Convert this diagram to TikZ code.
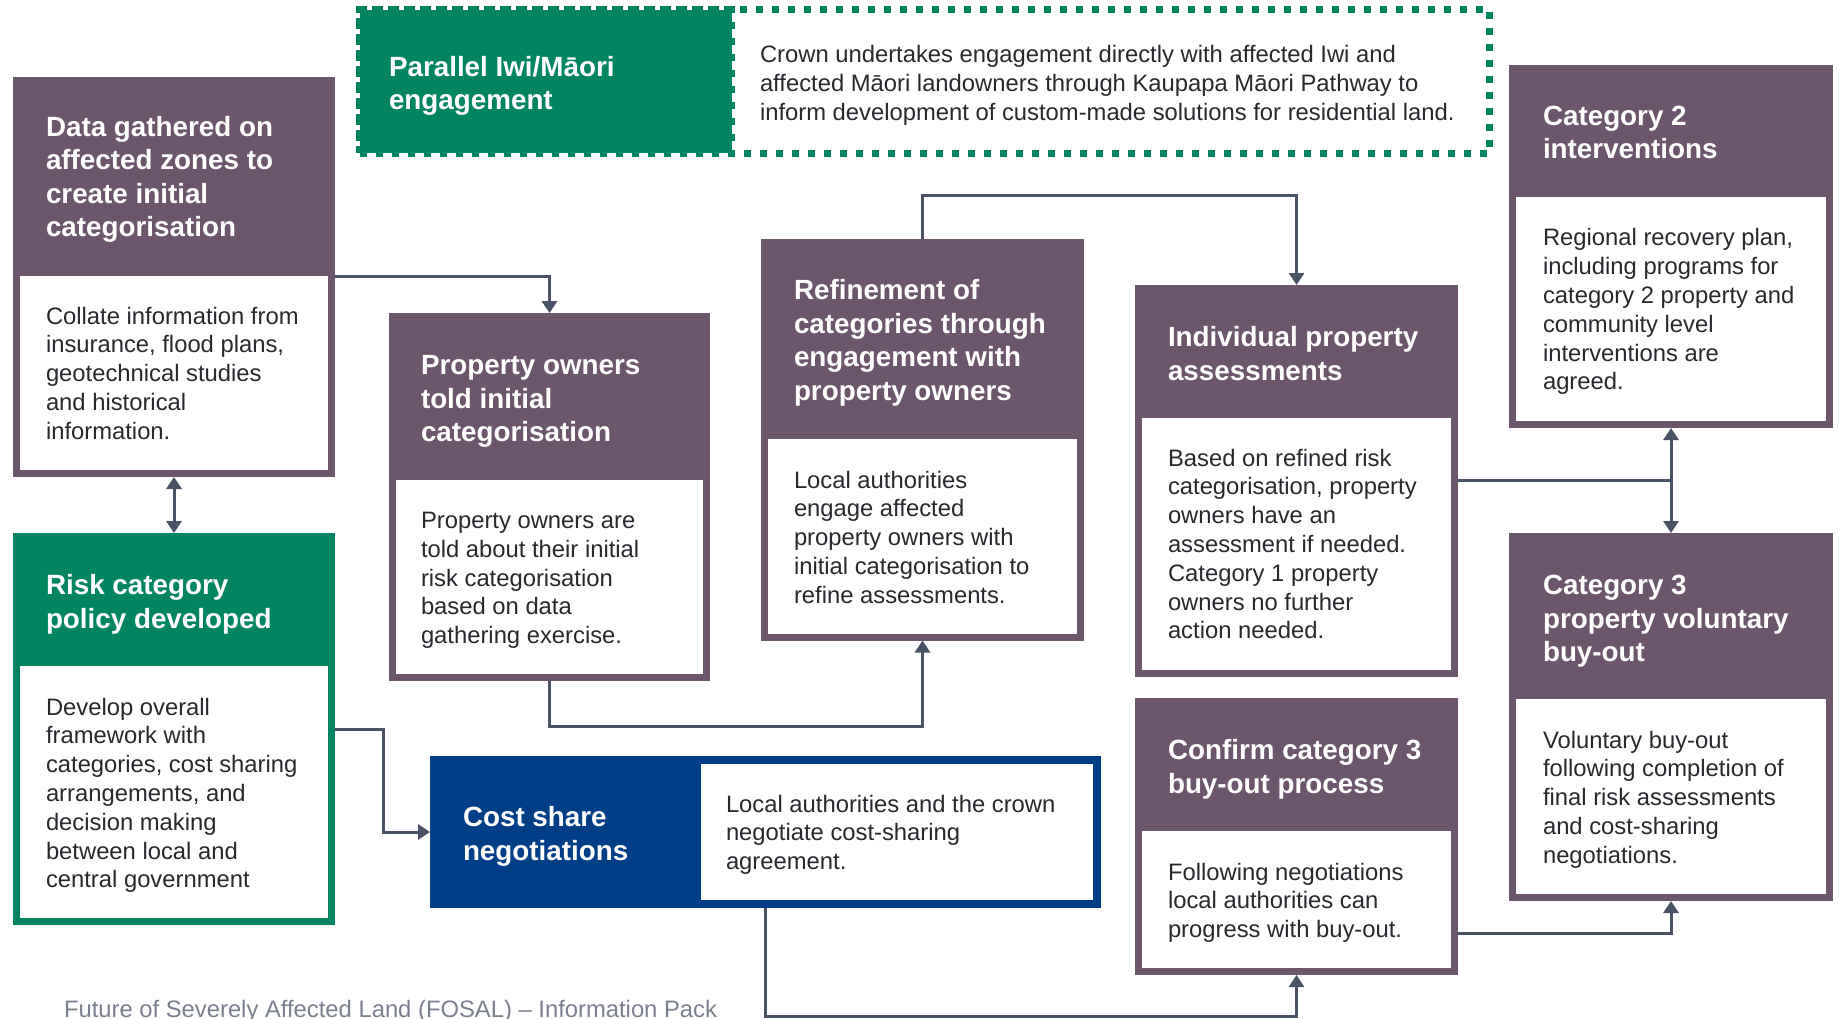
\documentclass[tikz,border=0pt]{standalone}
\usepackage{fontspec}
\setmainfont{Liberation Sans}
\usetikzlibrary{arrows.meta}
\definecolor{cplum}{RGB}{108,86,108}
\definecolor{cgreen}{RGB}{0,133,96}
\definecolor{cblue}{RGB}{0,62,135}
\definecolor{cconn}{RGB}{74,82,102}
\definecolor{ctext}{RGB}{40,40,46}
\definecolor{cfoot}{RGB}{122,128,142}
\newcommand{\hdfont}{\fontsize{27.8pt}{33.5pt}\selectfont\bfseries}
\newcommand{\bdfont}{\fontsize{23.8pt}{28.8pt}\selectfont}
\newcommand{\mlines}[1]{\parbox[t]{700pt}{\raggedright #1}}
\begin{document}
\begin{tikzpicture}[x=1pt,y=-1pt,
  shell/.style={inner sep=0pt, outer sep=0pt, anchor=north west, draw=none},
  panel/.style={shell, fill=white},
  hd/.style={inner sep=0pt, outer sep=0pt, anchor=base west, text=white, font=\hdfont},
  bd/.style={inner sep=0pt, outer sep=0pt, anchor=base west, text=ctext, font=\bdfont},
  conn/.style={draw=cconn, line width=3pt, -{Triangle[width=15pt,length=12pt]}},
  dotbrd/.style={draw=cgreen, line width=7pt, dash pattern=on 7pt off 9pt},
]
\fill[white] (0,0) rectangle (1839,1019);
\useasboundingbox (0,0) rectangle (1839,1019);

% Parallel engagement
\node[shell, dotbrd, minimum width=1130pt, minimum height=143.5pt] (Pout) at (359.5,10) {};
\node[shell, dotbrd, fill=cgreen, minimum width=372pt, minimum height=143.5pt] (P) at (359.5,10) {};
\node[hd] (Ph) at (389,76.5) {\mlines{Parallel Iwi/Māori\\engagement}};
\node[bd] (Pt) at (760,63) {\mlines{Crown undertakes engagement directly with affected Iwi and\\affected Māori landowners through Kaupapa Māori Pathway to\\inform development of custom-made solutions for residential land.}};

% A
\node[shell, fill=cplum, minimum width=322pt, minimum height=400pt] (A) at (13,77) {};
\node[panel, minimum width=308pt, minimum height=194pt] (Ab) at (20,276) {};
\node[hd] (Ah) at (46,136.5) {\mlines{Data gathered on\\affected zones to\\create initial\\categorisation}};
\node[bd] (At) at (46,324) {\mlines{Collate information from\\insurance, flood plans,\\geotechnical studies\\and historical\\information.}};

% B
\node[shell, fill=cplum, minimum width=321pt, minimum height=368pt] (B) at (389,313) {};
\node[panel, minimum width=307pt, minimum height=194pt] (Bb) at (396,480) {};
\node[hd] (Bh) at (421,374.5) {\mlines{Property owners\\told initial\\categorisation}};
\node[bd] (Bt) at (421,528.5) {\mlines{Property owners are\\told about their initial\\risk categorisation\\based on data\\gathering exercise.}};

% C
\node[shell, fill=cplum, minimum width=323pt, minimum height=401.5pt] (C) at (761,239) {};
\node[panel, minimum width=309pt, minimum height=194.5pt] (Cb) at (768,439) {};
\node[hd] (Ch) at (794,299.5) {\mlines{Refinement of\\categories through\\engagement with\\property owners}};
\node[bd] (Ct) at (794,488) {\mlines{Local authorities\\engage affected\\property owners with\\initial categorisation to\\refine assessments.}};

% D
\node[shell, fill=cplum, minimum width=323pt, minimum height=391.6pt] (D) at (1135,285) {};
\node[panel, minimum width=309pt, minimum height=251.6pt] (Db) at (1142,418) {};
\node[hd] (Dh) at (1168,346.5) {\mlines{Individual property\\assessments}};
\node[bd] (Dt) at (1168,466) {\mlines{Based on refined risk\\categorisation, property\\owners have an\\assessment if needed.\\Category 1 property\\owners no further\\action needed.}};

% E
\node[shell, fill=cplum, minimum width=323pt, minimum height=277pt] (E) at (1135,698) {};
\node[panel, minimum width=309pt, minimum height=137pt] (Eb) at (1142,831) {};
\node[hd] (Eh) at (1168,759.5) {\mlines{Confirm category 3\\buy-out process}};
\node[bd] (Et) at (1168,880) {\mlines{Following negotiations\\local authorities can\\progress with buy-out.}};

% F
\node[shell, fill=cplum, minimum width=324pt, minimum height=363pt] (F) at (1509,65) {};
\node[panel, minimum width=310pt, minimum height=224pt] (Fb) at (1516,197) {};
\node[hd] (Fh) at (1543,125.5) {\mlines{Category 2\\interventions}};
\node[bd] (Ft) at (1543,246) {\mlines{Regional recovery plan,\\including programs for\\category 2 property and\\community level\\interventions are\\agreed.}};

% G
\node[shell, fill=cplum, minimum width=324pt, minimum height=368pt] (G) at (1509,533) {};
\node[panel, minimum width=310pt, minimum height=195pt] (Gb) at (1516,699) {};
\node[hd] (Gh) at (1543,594.5) {\mlines{Category 3\\property voluntary\\buy-out}};
\node[bd] (Gt) at (1543,748) {\mlines{Voluntary buy-out\\following completion of\\final risk assessments\\and cost-sharing\\negotiations.}};

% R
\node[shell, fill=cgreen, minimum width=322pt, minimum height=392pt] (R) at (13,533) {};
\node[panel, minimum width=308pt, minimum height=252pt] (Rb) at (20,666) {};
\node[hd] (Rh) at (46,594.5) {\mlines{Risk category\\policy developed}};
\node[bd] (Rt) at (46,715) {\mlines{Develop overall\\framework with\\categories, cost sharing\\arrangements, and\\decision making\\between local and\\central government}};

% S
\node[shell, fill=cblue, minimum width=670.5pt, minimum height=152pt] (S) at (430,756) {};
\node[panel, minimum width=392pt, minimum height=136pt] (Sb) at (701,764) {};
\node[hd] (Sh) at (463,826.5) {\mlines{Cost share\\negotiations}};
\node[bd] (St) at (726,812) {\mlines{Local authorities and the crown\\negotiate cost-sharing\\agreement.}};

% footer
\node[bd, text=cfoot] (Foot) at (64,1017) {Future of Severely Affected Land (FOSAL) – Information Pack};

% connectors
\draw[conn] (A.east |- Ab.north) -| (B.north);
\draw[conn, {Triangle[width=15pt,length=12pt]}-{Triangle[width=15pt,length=12pt]}] (A.south) -- (R.north);
\draw[conn] (B.south) -- ++(0,45) -| (C.south);
\draw[conn] (C.north) -- ++(0,-43) -| (D.north);
\draw[conn] (D.east) -| (F.south);
\draw[conn] (D.east) -| (G.north);
\draw[conn] (R.east) -- ++(48,0) |- (S.west);
\draw[conn] (S.south) -- ++(0,108) -| (E.south);
\draw[conn] ([yshift=42pt]E.south east) -| (G.south);
\end{tikzpicture}
\end{document}
